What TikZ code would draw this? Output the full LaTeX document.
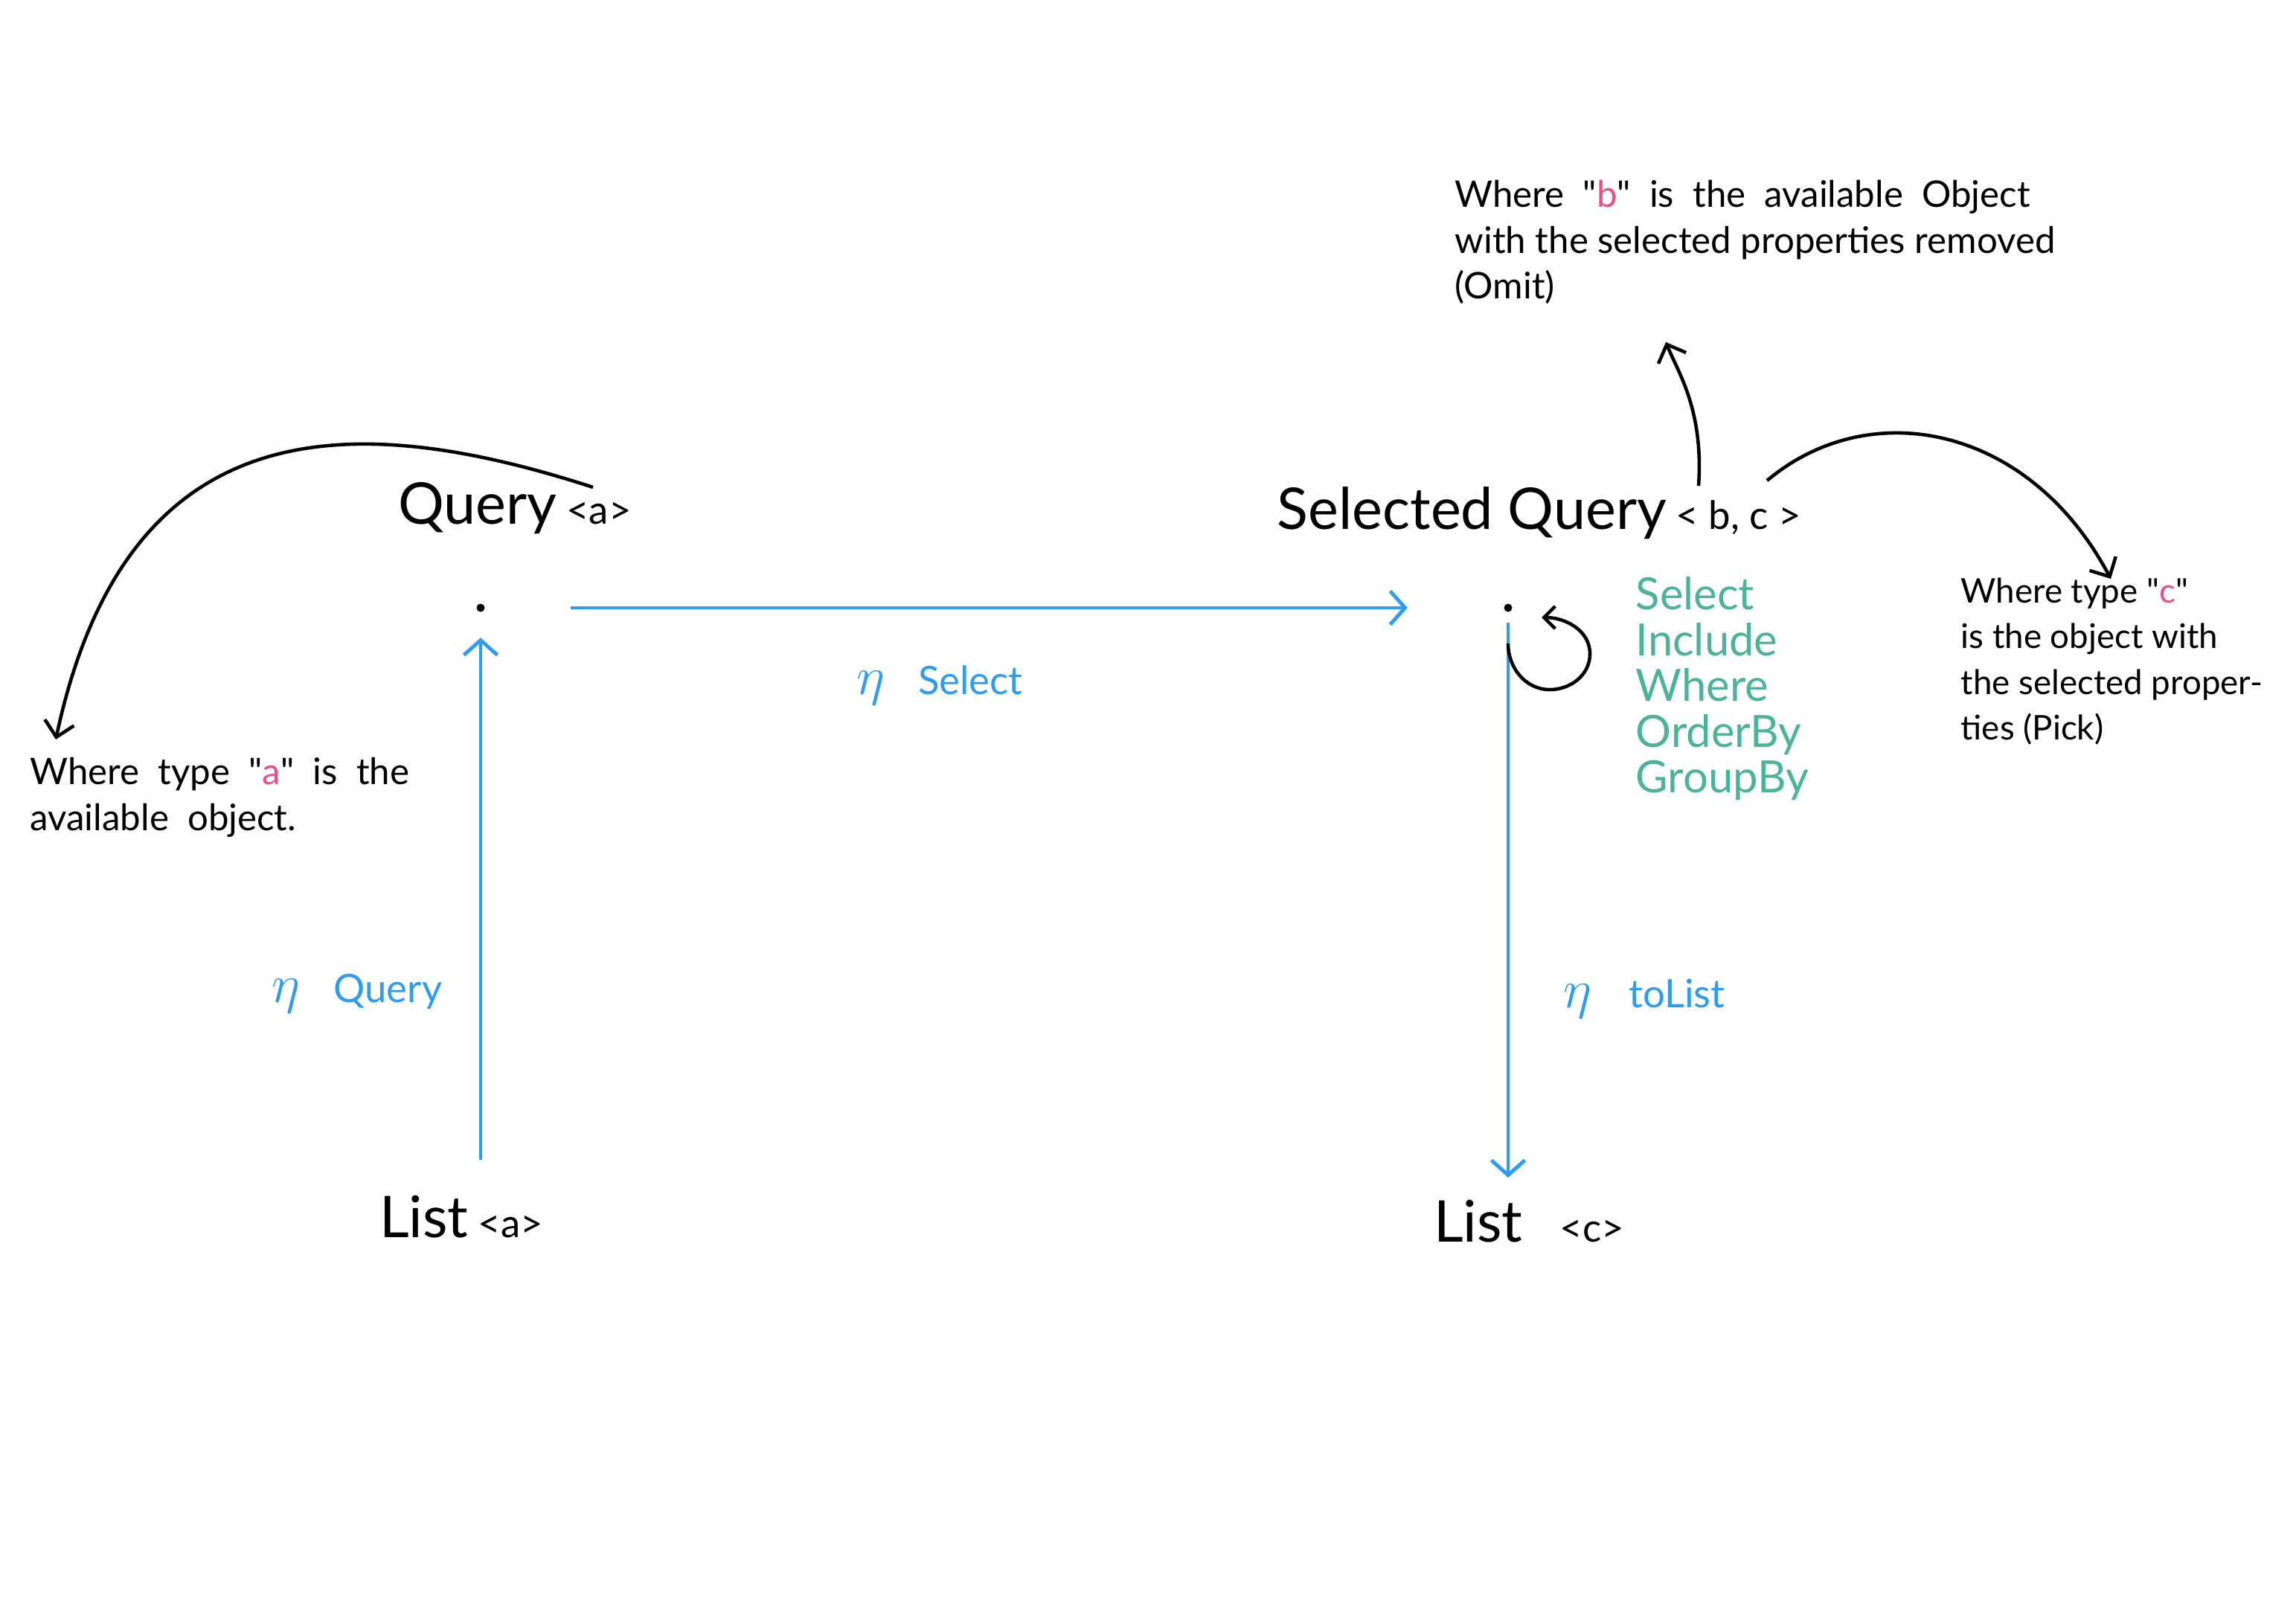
\documentclass[tikz,border=0pt]{standalone}
\usepackage{fontspec}
\setmainfont{Lato}
\usetikzlibrary{arrows.meta}
\definecolor{penblue}{HTML}{2D9CF2}
\definecolor{pengreen}{HTML}{4BB39A}
\definecolor{penpink}{HTML}{EE4D8A}
\tikzset{
  title/.style={anchor=base, inner sep=2pt, font=\fontsize{22}{26}\selectfont},
  note/.style={anchor=north west, align=left, inner sep=0pt, font=\fontsize{14}{17.5}\selectfont},
  ops/.style={anchor=north west, align=left, inner sep=0pt, text=pengreen, font=\fontsize{17}{17.5}\selectfont},
  lbl/.style={text=penblue, font=\fontsize{15}{18}\selectfont},
  anchordot/.style={circle, fill, inner sep=0pt, minimum size=1.1mm},
  flow/.style={penblue, line width=1.4pt, -{Straight Barb[length=2mm, width=4.5mm]}},
  curve/.style={black, line width=1.3pt, -{Straight Barb[length=2mm, width=4mm]}},
}
\newcommand{\tparam}[1]{{\fontsize{15}{18}\selectfont #1}}
\newcommand{\etalbl}{{\fontsize{20}{20}\selectfont$\eta$}}
\newcommand{\qtype}[1]{\textquotedbl\textcolor{penpink}{#1}\textquotedbl}

\begin{document}
\begin{tikzpicture}
  \useasboundingbox (0,0) rectangle (30.86,-21.83);
  % objects
  \node[title] (query) at (6.92,-7.05) {Query\,\tparam{<a>}};
  \node[title] (selq) at (20.69,-7.12) {Selected Query\,\tparam{< b, c >}};
  \node[title] (lista) at (6.20,-16.63) {List\,\tparam{<a>}};
  \node[title] (listc) at (20.55,-16.69) {List\hspace{0.5cm}\tparam{<c>}};
  \node[anchordot] (qdot) at (6.46,-8.17) {};
  \node[anchordot] (sdot) at (20.27,-8.17) {};
  % morphism labels
  \node[lbl] (lquery) at (4.80,-13.35) {\etalbl\hspace{0.45cm}Query};
  \node[lbl] (lselect) at (12.63,-9.21) {\etalbl\hspace{0.45cm}Select};
  \node[lbl] (ltolist) at (22.10,-13.42) {\etalbl\hspace{0.5cm}toList};
  \node[ops] (ops) at (21.98,-7.75) {Select\\Include\\Where\\OrderBy\\GroupBy};
  % notes
  \node[note] (noteb) at (19.55,-2.42) {Where\ \ \qtype{b}\ \ is\ \ the\ \ available\ \ Object\\with the selected properties removed\\(Omit)};
  \node[note, font=\fontsize{13}{17.5}\selectfont] (notec) at (26.35,-7.76) {Where type \qtype{c}\\is the object with\\the selected proper-\\ties (Pick)};
  \node[note] (notea) at (0.40,-10.18) {Where\ \ type\ \ \qtype{a}\ \ is\ \ the\\available\ \ object.};
  \coordinate (qtail) at (7.97,-6.55);
  \coordinate (btail) at (22.83,-6.53);
  \coordinate (ctail) at (23.75,-6.46);
  % arrows
  \draw[flow, shorten <=4mm, shorten >=3.4mm] (qdot |- lista.north) -- (qdot);
  \draw[flow, shorten <=11.5mm, shorten >=12.9mm] (qdot) -- (sdot);
  \draw[flow, shorten <=1.4mm, shorten >=2.2mm] (sdot) -- (sdot |- listc.north);
  \draw[curve, -{Straight Barb[length=1.5mm, width=3mm]}] ([shift={(0,-0.48)}]sdot.center)
    to[out=-90, in=180] ([shift={(0.56,-1.10)}]sdot.center)
    to[out=0, in=-90] ([shift={(1.10,-0.62)}]sdot.center)
    to[out=90, in=0] ([shift={(0.45,-0.13)}]sdot.center);
  \draw[curve] (qtail) .. controls (4.64,-5.47) and (1.69,-5.54) .. ([shift={(0.35,0.24)}]notea.north west);
  \draw[curve] (btail) .. controls (22.90,-5.50) and (22.55,-5.00) .. ([shift={(2.84,-0.50)}]noteb.south west);
  \draw[curve] (ctail) .. controls (25.13,-5.30) and (27.27,-5.71) .. ([shift={(2.02,-0.02)}]notec.north west);
\end{tikzpicture}
\end{document}
